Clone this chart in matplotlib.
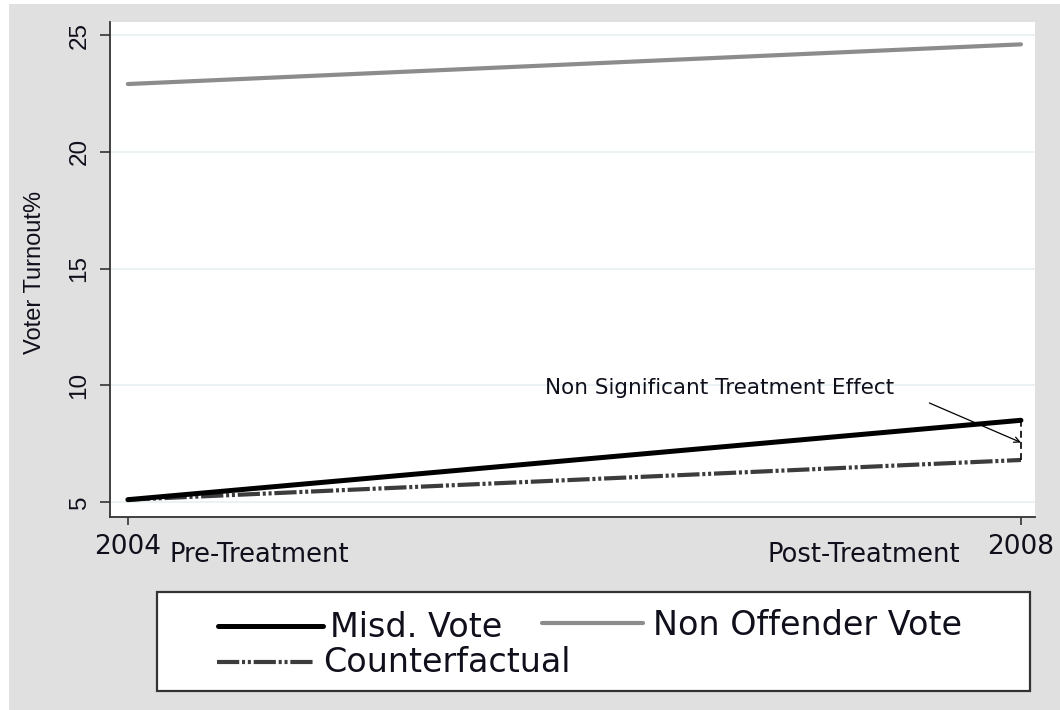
import matplotlib
matplotlib.use("Agg")
import matplotlib.pyplot as plt
from matplotlib.patches import Rectangle
from matplotlib.lines import Line2D

# Data
years = [2004, 2008]
misd_vote = [5.1, 8.5]
non_offender_vote = [22.9, 24.6]
counterfactual = [5.1, 6.8]
series_labels = ["Misd. Vote", "Non Offender Vote", "Counterfactual"]
y_ticks = [5, 10, 15, 20, 25]
x_ticks = [2004, 2008]
period_labels = ["Pre-Treatment", "Post-Treatment"]
annotation_text = "Non Significant Treatment Effect"

W, H = 1060, 710
DPI = 100
TEXT = "#10101c"
BG = "#e0e0e0"
C_MISD = "#000000"
C_NON = "#8c8c8c"
C_CF = "#3c3c3c"
CF_DASH = [16, 2, 2.2, 2, 2.2, 2]

plt.rcParams["lines.scale_dashes"] = False

fig = plt.figure(figsize=(W / DPI, H / DPI), dpi=DPI, facecolor="white")


def fx(px):
    return px / W


def fy(py):
    return 1 - py / H


# grey graph region
fig.add_artist(Rectangle((fx(9), 0), 1 - fx(9), fy(4), transform=fig.transFigure,
                         facecolor=BG, edgecolor="none", zorder=-5))

ax = fig.add_axes([fx(110), fy(517), fx(1035) - fx(110), fy(22) - fy(517)])
ax.set_zorder(1)
ax.set_facecolor("white")
ax.set_xlim(2003.92, 2008.063)
ax.set_ylim(4.358, 25.557)

for s in ("top", "right"):
    ax.spines[s].set_visible(False)
for s in ("left", "bottom"):
    ax.spines[s].set_color("#333333")
    ax.spines[s].set_linewidth(1.3)

ax.set_yticks(y_ticks)
ax.set_yticklabels([str(v) for v in y_ticks], rotation=90, va="center",
                   fontsize=17.5, family="Liberation Sans", color=TEXT)
ax.tick_params(axis="y", length=7, width=1.2, pad=7, color="#333333")
ax.set_xticks(x_ticks)
ax.set_xticklabels([str(v) for v in x_ticks], fontsize=19, family="DejaVu Sans", color=TEXT)
ax.tick_params(axis="x", length=6, width=1.2, pad=6, color="#333333")

ax.grid(axis="y", color="#e8f0f2", linewidth=1.2)
ax.set_axisbelow(True)

ax.plot(years, non_offender_vote, color=C_NON, lw=3.0, solid_capstyle="round",
        label=series_labels[1])
ax.plot(years, counterfactual, color=C_CF, lw=3.0, dashes=CF_DASH,
        label=series_labels[2])
ax.plot(years, misd_vote, color=C_MISD, lw=3.6, solid_capstyle="round",
        label=series_labels[0])

# gap between observed and counterfactual at the post period
ax.plot([years[1], years[1]], [counterfactual[1], misd_vote[1]], color="black",
        lw=1.2, dashes=[5, 3])

ax.text(2005.868, 9.88, annotation_text, fontsize=15.5, family="DejaVu Sans",
        color=TEXT, va="center", ha="left")
ax.annotate("", xy=(years[1], 7.55), xytext=(2007.59, 9.24),
            arrowprops=dict(arrowstyle="->", lw=0.9, color="black",
                            shrinkA=0, shrinkB=0, mutation_scale=10))

# y axis title
fig.text(fx(35), fy(272), "Voter Turnout%", rotation=90, ha="center", va="center",
         fontsize=17, family="Liberation Sans", color=TEXT)

# period labels under the axis
fig.text(fx(170), fy(562), period_labels[0], fontsize=18.5, family="DejaVu Sans",
         color=TEXT, ha="left", va="baseline")
fig.text(fx(768), fy(562), period_labels[1], fontsize=18.5, family="DejaVu Sans",
         color=TEXT, ha="left", va="baseline")

# legend box
fig.add_artist(Rectangle((fx(157), fy(691)), fx(1030) - fx(157), fy(592) - fy(691),
                         transform=fig.transFigure, facecolor="white",
                         edgecolor="#333333", linewidth=1.6, zorder=2))
legend_items = [
    (series_labels[0], dict(color=C_MISD, lw=3.6, solid_capstyle="round"), (218, 323, 626), (330, 637)),
    (series_labels[1], dict(color=C_NON, lw=3.0, solid_capstyle="round"), (542, 643, 623), (653, 635)),
    (series_labels[2], dict(color=C_CF, lw=3.0, dashes=CF_DASH), (217, 315, 662), (323, 672)),
]
for label, style, (x0, x1, yl), (tx, ty) in legend_items:
    fig.add_artist(Line2D([fx(x0), fx(x1)], [fy(yl), fy(yl)], transform=fig.transFigure,
                          zorder=3, **style))
    fig.text(fx(tx), fy(ty), label, fontsize=24, family="DejaVu Sans", color=TEXT,
             ha="left", va="baseline", zorder=3)

fig.savefig("out.png", dpi=DPI, facecolor="white")
